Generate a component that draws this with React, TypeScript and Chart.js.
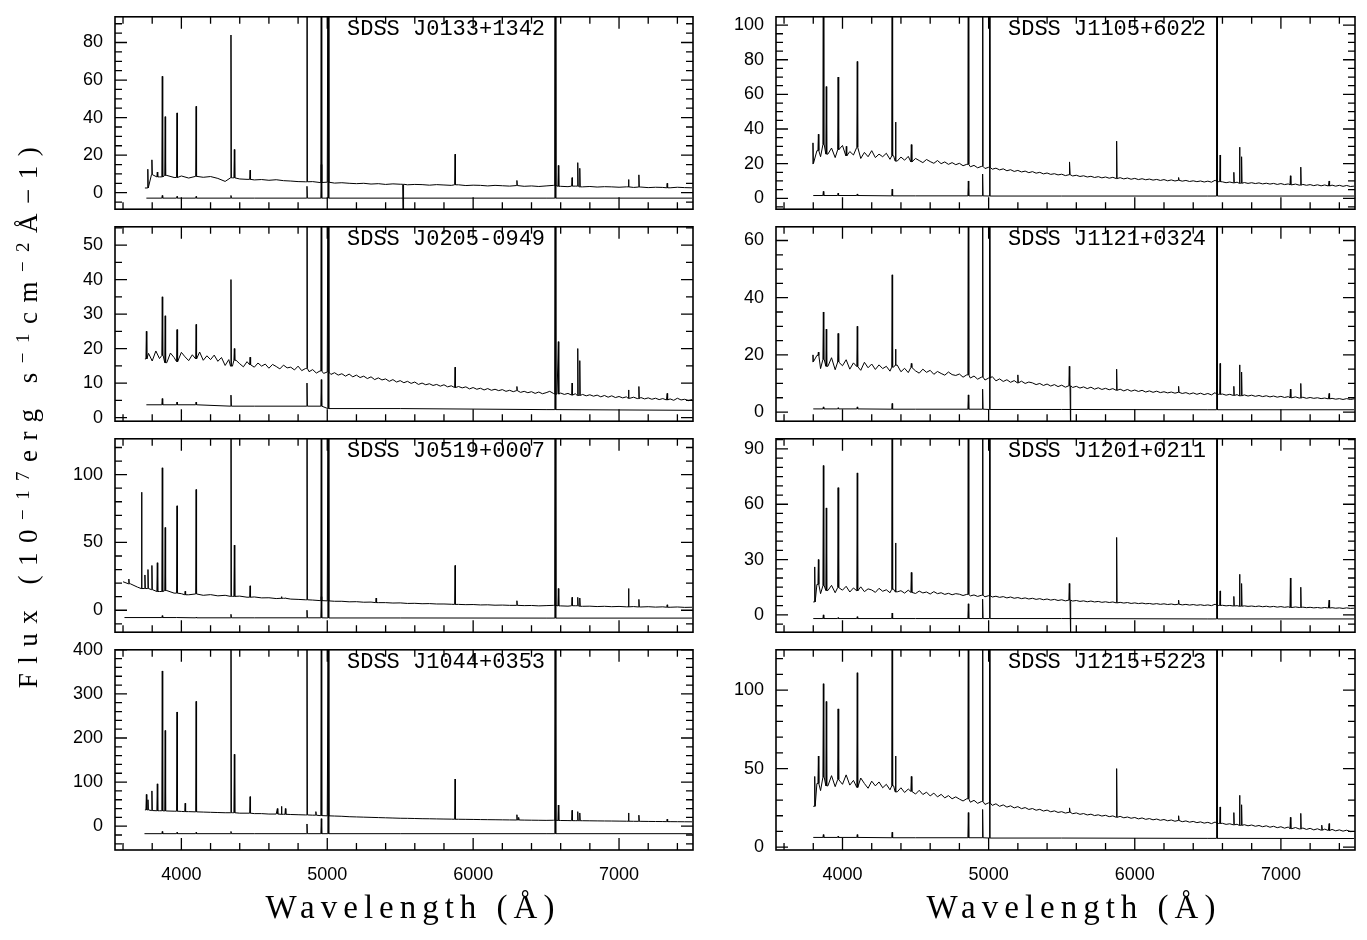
import React, { useEffect, useRef } from "react";
import { Chart, registerables } from "chart.js";
Chart.register(...registerables);

// ---------------- data ----------------
const X_MIN = 3545;
const X_MAX = 7507;
const X_TICKS = [4000, 5000, 6000, 7000];

const NAMES = [
  "SDSS J0133+1342",
  "SDSS J0205-0949",
  "SDSS J0519+0007",
  "SDSS J1044+0353",
  "SDSS J1105+6022",
  "SDSS J1121+0324",
  "SDSS J1201+0211",
  "SDSS J1215+5223",
];

const Y_MIN = [-8.8, -1.06, -16.2, -54, -6.3, -3.2, -9.4, -1.8];
const Y_MAX = [93.7, 55.3, 126.4, 400, 104.8, 64.8, 95.5, 125.6];
const Y_STEP = [20, 10, 50, 100, 20, 20, 30, 50];
const Y_MINOR = [5, 5, 10, 20, 5, 5, 5, 10];

// continuum samples: first wavelength and spacing (Angstrom) of each panel's list
const CONT_START = [3750, 3750, 3600, 3750, 3800, 3800, 3800, 3800];
const CONT_STEP = [50, 25, 50, 50, 25, 25, 25, 25];

const CONT_J0133 = [
  2.5, 9.6, 8.4, 9.2, 8.1, 8.9, 7.8, 8.7, 8.2, 8.6,
  7.6, 6.0, 7.9, 7.3, 7.1, 6.8, 7.0, 6.6, 6.9, 6.4,
  6.2, 5.9, 5.8, 5.9, 5.4, 5.6, 5.1, 5.3, 5.0, 4.8,
  5.0, 4.6, 4.8, 4.4, 4.7, 4.5, 4.2, 4.4, 4.3, 4.0,
  4.3, 4.1, 3.9, 4.2, 3.8, 4.0, 3.9, 3.6, 3.9, 3.7,
  3.5, 3.8, 3.4, 3.6, 3.3, 3.6, 3.9, 3.4, 3.2, 3.5,
  3.1, 3.3, 3.0, 3.2, 3.1, 2.9, 3.1, 2.8, 3.0, 2.7,
  2.9, 2.8, 2.6, 2.9, 2.7, 2.6,
];
const LINE_W_J0133 = [3770, 3798, 3835, 3869, 3889, 3970, 4101, 4340, 4363, 4471, 4861, 4959, 5007, 5520, 5876, 6300, 6563, 6584, 6678, 6717, 6731, 7065, 7136, 7330];
const LINE_F_J0133 = [12.5, 17.5, 11, 62, 40.5, 42.5, 46, 84, 23, 12, 200, 200, 200, -20, 20.5, 6.5, 200, 14.5, 8, 16, 13, 7, 9.5, 5];

const CONT_J0205 = [
  17.0, 18.6, 16.4, 19.3, 17.1, 18.0, 15.9, 18.7, 17.4, 16.2, 18.9, 17.6, 16.5, 18.2, 17.0, 19.0, 16.6, 17.9, 16.8, 18.1,
  16.3, 17.4, 15.1, 16.8, 14.9, 16.6, 15.6, 14.7, 16.2, 15.3, 14.6, 15.8, 14.9, 15.5, 14.3, 15.4, 14.8, 14.1, 15.2, 14.4,
  14.6, 13.8, 14.9, 13.6, 14.2, 13.3, 13.9, 12.9, 13.5, 12.8, 13.2, 12.5, 13.0, 12.3, 12.7, 12.0, 12.6, 11.8, 12.3, 11.6,
  12.0, 11.3, 11.8, 11.0, 11.5, 10.9, 11.2, 10.5, 11.0, 10.3, 10.7, 10.1, 10.5, 9.9, 10.3, 9.6, 10.0, 9.5, 9.8, 9.3,
  9.6, 9.1, 9.5, 8.9, 9.2, 8.7, 9.0, 8.6, 8.9, 8.3, 8.7, 8.2, 8.5, 8.0, 8.4, 7.9, 8.2, 7.8, 8.1, 7.6,
  7.9, 7.5, 7.8, 7.3, 7.6, 7.2, 7.5, 7.0, 7.4, 6.9, 7.2, 7.6, 7.0, 6.8, 7.1, 6.7, 7.0, 6.5, 6.9, 6.4,
  6.7, 6.3, 6.6, 6.2, 6.5, 6.0, 6.4, 5.9, 6.3, 5.8, 6.1, 5.7, 6.0, 5.6, 5.9, 5.5, 5.8, 5.4, 5.7, 5.3,
  5.6, 5.2, 5.5, 5.1, 5.4, 5.0, 5.6, 5.1, 5.3, 4.9, 5.2,
];
const LINE_W_J0205 = [3760, 3869, 3889, 3970, 4101, 4340, 4363, 4471, 4861, 4959, 5007, 5876, 6300, 6563, 6584, 6678, 6717, 6731, 7065, 7136, 7330];
const LINE_F_J0205 = [25, 35, 29.5, 25.5, 27, 40, 20, 17.5, 100, 100, 100, 14.6, 9, 100, 22, 10, 20, 16.5, 8, 9, 7];

const CONT_J0519 = [
  21.0, 19.5, 17.0, 16.0, 15.2, 13.8, 14.5, 12.6, 12.2, 11.4,
  12.0, 11.0, 11.5, 10.6, 11.0, 10.2, 10.4, 9.6, 9.8, 9.1,
  9.2, 8.6, 8.8, 8.2, 8.0, 7.7, 7.5, 7.1, 6.9, 6.6,
  6.6, 6.2, 6.3, 5.9, 6.0, 5.6, 5.6, 5.3, 5.4, 5.0,
  5.1, 4.8, 4.9, 4.6, 4.6, 4.4, 4.3, 4.1, 4.2, 3.9,
  4.0, 3.7, 3.8, 3.6, 3.6, 3.4, 3.5, 3.2, 3.4, 3.6,
  3.2, 3.0, 3.3, 2.9, 3.0, 2.7, 2.9, 2.6, 2.8, 2.5,
  2.7, 2.4, 2.6, 2.3, 2.5, 2.2, 2.4, 2.1, 2.2,
];
const LINE_W_J0519 = [3640, 3727, 3750, 3771, 3798, 3835, 3869, 3889, 3970, 4026, 4101, 4340, 4363, 4471, 4686, 4713, 4861, 4959, 5007, 5335, 5876, 6300, 6563, 6584, 6678, 6717, 6731, 7065, 7136, 7330];
const LINE_F_J0519 = [23, 87, 26, 30, 33, 35, 105, 61, 77, 14, 89, 200, 48, 18, 10, 9, 200, 200, 200, 9, 33, 7, 200, 16, 9.5, 9.5, 9, 16, 8, 4];

const CONT_J1044 = [
  37, 35.5, 35, 34.5, 34, 33.5, 33, 32.5, 32, 31.5,
  31, 30.5, 30.5, 29.5, 29.5, 28.5, 28.5, 27.5, 27.5, 27,
  26.5, 26, 25.5, 25, 24, 23.5, 23, 22.5, 21.5, 21,
  20.5, 20, 19.5, 19, 18.5, 18, 17.8, 17.4, 17, 16.8,
  16.5, 16.2, 16, 15.7, 15.5, 15.3, 15, 14.8, 14.6, 14.4,
  14.2, 14, 13.8, 13.6, 13.4, 13.2, 13.5, 12.9, 12.7, 12.5,
  12.4, 12.2, 12, 11.8, 11.7, 11.5, 11.3, 11.1, 11, 10.8,
  10.6, 10.5, 10.3, 10.2, 10, 9.9,
];
const LINE_W_J1044 = [3760, 3771, 3798, 3835, 3869, 3889, 3970, 4026, 4101, 4340, 4363, 4471, 4658, 4686, 4713, 4861, 4922, 4959, 5007, 5876, 6300, 6312, 6563, 6584, 6678, 6717, 6731, 7065, 7136, 7330];
const LINE_F_J1044 = [72, 60, 80, 96, 352, 217, 259, 52, 283, 500, 163, 67, 40, 45, 40, 500, 33, 500, 500, 107, 26, 20, 500, 48, 36, 33, 30, 30, 25, 16];

const CONT_J1105 = [
  20.0, 27.5, 24.0, 31.0, 25.5, 29.0, 23.5, 28.0, 30.5, 24.5, 27.0, 25.0, 29.5, 23.0, 26.5, 24.0, 27.5, 23.5, 25.5, 24.0,
  26.0, 22.5, 24.5, 21.5, 23.8, 22.0, 24.2, 21.0, 23.0, 21.8, 20.6, 22.4, 21.2, 20.2, 21.8, 20.0, 21.0, 19.6, 20.6, 19.4,
  20.2, 18.8, 19.6, 18.2, 19.0, 17.6, 18.4, 17.2, 17.9, 16.8, 17.4, 16.4, 17.0, 15.9, 16.5, 15.5, 16.1, 15.2, 15.7, 14.8,
  15.4, 14.5, 15.0, 14.1, 14.6, 13.8, 14.2, 13.5, 13.9, 13.1, 13.6, 12.9, 13.3, 12.6, 13.0, 12.3, 12.7, 12.0, 12.5, 11.8,
  12.3, 11.6, 12.1, 11.4, 11.9, 11.2, 11.7, 11.0, 11.5, 10.8, 11.3, 10.7, 11.1, 10.5, 10.9, 10.3, 10.8, 10.1, 10.6, 10.0,
  10.4, 9.9, 10.3, 9.7, 10.1, 9.6, 10.0, 9.4, 9.9, 9.3, 10.4, 9.6, 9.5, 9.0, 9.4, 8.9, 9.3, 8.7, 9.1, 8.6,
  9.0, 8.5, 8.9, 8.3, 8.7, 8.2, 8.6, 8.0, 8.5, 7.9, 8.3, 7.8, 8.2, 7.6, 8.0, 7.5, 7.9, 7.3, 7.8, 7.2,
  7.7, 7.1, 7.6, 7.0, 7.5, 6.9, 7.4, 6.8, 7.0,
];
const LINE_W_J1105 = [3798, 3835, 3869, 3889, 3970, 4026, 4101, 4340, 4363, 4471, 4861, 4959, 5007, 5555, 5876, 6300, 6563, 6584, 6678, 6717, 6731, 7065, 7136, 7330];
const LINE_F_J1105 = [32, 37, 200, 64.5, 70, 30, 79, 200, 44, 31, 200, 200, 200, 21, 33, 12, 200, 25, 15, 29.5, 24, 13, 18, 10];

const CONT_J1121 = [
  17.6, 19.8, 15.2, 18.4, 16.0, 19.0, 14.8, 17.5, 16.2, 18.3, 15.0, 17.2, 15.9, 14.6, 17.4, 15.5, 16.8, 14.9, 16.5, 15.2,
  16.0, 14.3, 15.7, 16.4, 14.1, 15.3, 13.8, 15.6, 14.4, 13.6, 15.0, 13.9, 14.6, 13.2, 14.2, 13.5, 12.9, 14.0, 13.1, 12.8,
  13.3, 12.2, 13.0, 11.9, 12.6, 11.5, 12.2, 11.2, 11.9, 12.4, 10.9, 11.6, 10.7, 11.3, 10.4, 11.0, 10.2, 10.8, 10.0, 10.5,
  10.2, 9.6, 10.0, 9.3, 9.8, 9.1, 9.6, 8.9, 9.4, 8.7, 9.2, 8.6, 9.0, 8.4, 8.8, 8.2, 8.7, 8.0, 8.5, 7.9,
  8.3, 7.8, 8.2, 7.6, 8.0, 7.4, 7.9, 7.3, 7.7, 7.2, 7.6, 7.0, 7.4, 6.9, 7.3, 6.8, 7.1, 6.7, 7.0, 6.6,
  6.9, 6.5, 6.8, 6.3, 6.7, 6.2, 6.6, 6.1, 6.5, 6.0, 6.8, 6.2, 6.3, 5.9, 6.2, 5.8, 6.1, 5.7, 6.0, 5.6,
  5.9, 5.5, 5.8, 5.4, 5.7, 5.3, 5.6, 5.2, 5.5, 5.1, 5.4, 5.0, 5.3, 4.9, 5.2, 4.8, 5.1, 4.8, 5.0, 4.7,
  4.9, 4.6, 4.8, 4.5, 4.7, 4.4, 4.7, 4.4, 4.6,
];
const LINE_W_J1121 = [3798, 3835, 3869, 3889, 3970, 4101, 4340, 4363, 4471, 4861, 4959, 5007, 5200, 5552, 5560, 5876, 6300, 6563, 6584, 6678, 6717, 6731, 7065, 7136, 7330];
const LINE_F_J1121 = [20, 21, 35, 29, 27.5, 30, 48, 22, 17, 100, 100, 100, 13, 16, -10, 15, 9, 100, 17, 9, 16.5, 14, 8, 10, 6.5];

const CONT_J1201 = [
  7.0, 16.5, 11.5, 15.8, 13.2, 16.0, 12.0, 14.8, 13.4, 15.5, 12.4, 14.6, 13.0, 15.2, 12.6, 14.1, 13.5, 12.2, 14.4, 12.8,
  13.6, 12.0, 13.9, 12.5, 13.1, 11.8, 13.4, 12.2, 11.6, 12.9, 11.9, 12.4, 11.3, 12.6, 11.5, 12.0, 11.1, 11.7, 10.9, 11.5,
  11.2, 10.5, 11.1, 10.3, 10.8, 10.0, 10.6, 9.8, 10.4, 9.7, 10.1, 9.5, 9.9, 9.2, 9.7, 9.0, 9.4, 8.8, 9.2, 8.6,
  9.0, 8.4, 8.8, 8.2, 8.6, 8.0, 8.4, 7.8, 8.2, 7.6, 8.0, 7.5, 7.8, 7.3, 7.6, 7.1, 7.5, 7.0, 7.3, 6.8,
  7.1, 6.7, 7.0, 6.5, 6.8, 6.4, 6.7, 6.2, 6.5, 6.1, 6.4, 6.0, 6.2, 5.8, 6.1, 5.7, 6.0, 5.6, 5.9, 5.5,
  5.8, 5.4, 5.7, 5.3, 5.6, 5.2, 5.5, 5.1, 5.4, 5.0, 5.8, 5.1, 5.2, 4.9, 5.1, 4.8, 5.0, 4.7, 4.9, 4.6,
  4.8, 4.5, 4.8, 4.4, 4.7, 4.3, 4.6, 4.2, 4.5, 4.1, 4.4, 4.0, 4.3, 4.0, 4.2, 3.9, 4.1, 3.8, 4.0, 3.7,
  4.0, 3.7, 3.9, 3.6, 3.8, 3.5, 3.8, 3.5, 3.6,
];
const LINE_W_J1201 = [3810, 3835, 3869, 3889, 3970, 4101, 4340, 4363, 4471, 4861, 4959, 5007, 5552, 5560, 5876, 6300, 6563, 6584, 6678, 6717, 6731, 7065, 7136, 7330];
const LINE_F_J1201 = [26, 30, 81, 58, 69, 77, 200, 39, 23, 200, 200, 200, 17, -15, 42, 8, 200, 13, 10, 22, 17, 20, 15, 8];

const CONT_J1215 = [
  26.0, 40.5, 36.0, 44.5, 39.0, 45.5, 38.5, 43.0, 40.0, 46.0, 39.5, 42.5, 38.0, 44.0, 40.5, 37.5, 42.0, 39.0, 41.5, 37.8,
  40.0, 36.5, 39.0, 35.2, 37.8, 34.8, 37.0, 35.5, 33.8, 36.2, 33.5, 35.0, 32.6, 34.4, 32.0, 33.6, 31.4, 32.8, 30.8, 32.0,
  30.6, 29.4, 30.8, 28.6, 29.8, 27.9, 29.0, 27.2, 28.2, 26.6, 27.6, 26.0, 26.9, 25.5, 26.3, 25.0, 25.8, 24.5, 25.2, 24.0,
  24.6, 23.5, 24.1, 23.0, 23.6, 22.5, 23.1, 22.1, 22.6, 21.7, 22.2, 21.3, 21.8, 20.9, 21.4, 20.5, 21.0, 20.1, 20.6, 19.8,
  20.3, 19.4, 19.9, 19.0, 19.6, 18.7, 19.2, 18.4, 18.9, 18.0, 18.6, 17.7, 18.2, 17.4, 17.9, 17.1, 17.6, 16.8, 17.3, 16.5,
  17.0, 16.2, 16.7, 15.9, 16.4, 15.6, 16.1, 15.3, 15.8, 15.0, 16.0, 15.1, 15.2, 14.5, 14.9, 14.2, 14.6, 13.9, 14.3, 13.6,
  14.1, 13.3, 13.8, 13.0, 13.6, 12.7, 13.3, 12.4, 13.0, 12.1, 12.8, 11.8, 12.5, 11.6, 12.2, 11.3, 12.0, 11.0, 11.7, 10.8,
  11.5, 10.6, 11.3, 10.4, 11.0, 10.2, 10.8, 9.9, 10.0,
];
const LINE_W_J1215 = [3810, 3835, 3869, 3889, 3970, 4101, 4340, 4363, 4471, 4861, 4959, 5007, 5555, 5876, 6300, 6563, 6584, 6678, 6717, 6731, 7065, 7136, 7281, 7330];
const LINE_F_J1215 = [45, 58, 104, 92.7, 88, 111, 200, 58, 45, 200, 200, 200, 25, 50, 20, 200, 25.6, 22, 33, 27, 19, 21.5, 14, 15];

// lower (error) spectra: few nodes + spikes at the strong lines
const LOW_LINE_W = [3869, 3970, 4101, 4340, 4861, 4959, 5007, 6563];
const LOW_NODE_W = [
  [3760, 4500, 5500, 6500, 7500],
  [3760, 4500, 5500, 6500, 7500],
  [3610, 4500, 5500, 6500, 7500],
  [3747, 4500, 5500, 6500, 7500],
  [3800, 4500, 5500, 6500, 7500],
  [3800, 4500, 5500, 6500, 7500],
  [3800, 4500, 5500, 6500, 7500],
  [3800, 4500, 5500, 6500, 7500],
];
const LOW_NODE_F = [
  [-2.9, -2.9, -2.9, -2.9, -2.9],
  [3.7, 3.3, 2.6, 2.3, 2.1],
  [-5.4, -5.6, -5.7, -5.8, -5.8],
  [-17, -17, -17, -17, -17],
  [1.6, 1.4, 1.3, 1.3, 1.3],
  [1.1, 1.0, 0.9, 0.8, 0.8],
  [-2, -2, -2, -2.2, -2.2],
  [6.2, 6.0, 5.8, 5.6, 5.5],
];
const LOW_LINE_F = [
  [-1.5, -2, -2, -1.5, 3.4, 15, 200, 200],
  [5.5, 4.5, 4.5, 6.5, 10, 11, 60, 60],
  [-4, -5, -5, -3, 0, 10, 200, 200],
  [-12, -14, -14, -12, 5, 17, 500, 500],
  [4, 3, 2.5, 5.3, 10, 14, 200, 200],
  [1.8, 1.5, 1.8, 3, 6, 8, 100, 100],
  [0, -1.5, -1, 1, 6, 8.5, 200, 200],
  [8, 7, 8, 9.5, 22, 24, 200, 200],
];

const CONTS = [CONT_J0133, CONT_J0205, CONT_J0519, CONT_J1044, CONT_J1105, CONT_J1121, CONT_J1201, CONT_J1215];
const LINE_WS = [LINE_W_J0133, LINE_W_J0205, LINE_W_J0519, LINE_W_J1044, LINE_W_J1105, LINE_W_J1121, LINE_W_J1201, LINE_W_J1215];
const LINE_FS = [LINE_F_J0133, LINE_F_J0205, LINE_F_J0519, LINE_F_J1044, LINE_F_J1105, LINE_F_J1121, LINE_F_J1201, LINE_F_J1215];

// ---------------- layout ----------------
const COL_X = [
  [115, 693],
  [776, 1355],
];
const ROW_Y = [8, 218, 430, 641, 850];
const Y_AXIS_W = 85;
const PAD = 14;
const X_AXIS_H = 45;

function geom(i: number) {
  const col = i < 4 ? 0 : 1;
  const row = i % 4;
  const [x0, x1] = COL_X[col];
  const y0 = ROW_Y[row];
  const y1 = ROW_Y[row + 1];
  const isBottom = row === 3;
  return {
    isBottom,
    plotLeft: x0,
    plotTop: y0,
    left: x0 - Y_AXIS_W,
    top: y0 - PAD,
    w: x1 - x0 + Y_AXIS_W + PAD,
    h: y1 - y0 + PAD + (isBottom ? X_AXIS_H : PAD),
  };
}

function buildSeries(ws: number[], fs: number[], lw: number[], lf: number[]) {
  const pts = ws.map((w, k) => ({ x: w, y: fs[k] }));
  const nearest = (w: number) => {
    let best = pts[0];
    for (const p of pts) if (Math.abs(p.x - w) < Math.abs(best.x - w)) best = p;
    return best.y;
  };
  const extra: { x: number; y: number }[] = [];
  lw.forEach((w, k) => {
    const b = nearest(w);
    extra.push({ x: w - 3, y: b }, { x: w, y: lf[k] }, { x: w + 3, y: b });
  });
  return pts
    .filter((p) => !lw.some((w) => Math.abs(w - p.x) <= 3))
    .concat(extra)
    .sort((a, b) => a.x - b.x);
}

const framePlugin = {
  id: "frame",
  afterDraw(chart: any, _args: any, opts: any) {
    const { ctx, chartArea, scales } = chart;
    const { left, right, top, bottom } = chartArea;
    const xs = scales.x;
    const ys = scales.y;
    ctx.save();
    ctx.strokeStyle = "#000";
    ctx.lineWidth = 1.6;
    ctx.strokeRect(left, top, right - left, bottom - top);
    ctx.lineWidth = 1.3;
    ctx.beginPath();
    for (let k = 0; k <= 20; k++) {
      const w = 3600 + k * 200;
      const px = xs.getPixelForValue(w);
      if (px <= left || px >= right) continue;
      const L = w % 1000 === 0 ? 12 : 7;
      ctx.moveTo(px, bottom);
      ctx.lineTo(px, bottom - L);
      ctx.moveTo(px, top);
      ctx.lineTo(px, top + L);
    }
    const minor = opts.minor;
    const major = opts.major;
    const kStart = Math.ceil(ys.min / minor);
    const kEnd = Math.floor(ys.max / minor);
    for (let k = kStart; k <= kEnd; k++) {
      const v = k * minor;
      const py = ys.getPixelForValue(v);
      const r = v / major;
      const isMajor = Math.abs(r - Math.round(r)) < 1e-6;
      const L = isMajor ? 12 : 7;
      ctx.moveTo(left, py);
      ctx.lineTo(left + L, py);
      ctx.moveTo(right, py);
      ctx.lineTo(right - L, py);
    }
    ctx.stroke();
    ctx.restore();
  },
};

function makeConfig(i: number): any {
  const g = geom(i);
  const start = CONT_START[i];
  const contW = CONTS[i].map((_, k) => start + k * CONT_STEP[i]);
  const upper = buildSeries(contW, CONTS[i], LINE_WS[i], LINE_FS[i]);
  const lower = buildSeries(LOW_NODE_W[i], LOW_NODE_F[i], LOW_LINE_W, LOW_LINE_F[i]);
  const tickFont = { family: "'Liberation Sans', Arial, sans-serif", size: 18 };
  const step = Y_STEP[i];
  const yTicks: number[] = [];
  for (let k = Math.ceil(Y_MIN[i] / step); k * step <= Y_MAX[i]; k++) yTicks.push(k * step);
  return {
    type: "line",
    data: {
      datasets: [
        { data: upper, borderColor: "#000", borderWidth: 1, pointRadius: 0, tension: 0, fill: false },
        { data: lower, borderColor: "#000", borderWidth: 1, pointRadius: 0, tension: 0, fill: false },
      ],
    },
    options: {
      animation: false,
      responsive: false,
      devicePixelRatio: 1,
      layout: { padding: { left: 0, right: PAD, top: PAD, bottom: g.isBottom ? 0 : PAD } },
      plugins: {
        legend: { display: false },
        tooltip: { enabled: false },
        frame: { major: Y_STEP[i], minor: Y_MINOR[i] },
      },
      scales: {
        x: {
          type: "linear",
          min: X_MIN,
          max: X_MAX,
          grid: { display: false, drawTicks: false },
          border: { display: false },
          afterBuildTicks: (s: any) => {
            s.ticks = X_TICKS.map((v) => ({ value: v }));
          },
          afterFit: (s: any) => {
            s.height = g.isBottom ? X_AXIS_H : 0;
          },
          ticks: {
            display: g.isBottom,
            autoSkip: false,
            maxRotation: 0,
            padding: 14,
            color: "#000",
            font: tickFont,
            callback: (v: any) => String(v),
          },
        },
        y: {
          type: "linear",
          min: Y_MIN[i],
          max: Y_MAX[i],
          grid: { display: false, drawTicks: false },
          border: { display: false },
          afterBuildTicks: (s: any) => {
            s.ticks = yTicks.map((v) => ({ value: v }));
          },
          afterFit: (s: any) => {
            s.width = Y_AXIS_W;
          },
          ticks: {
            autoSkip: false,
            padding: 12,
            color: "#000",
            font: tickFont,
            callback: (v: any) => String(v),
          },
        },
      },
    },
    plugins: [framePlugin],
  };
}

const sup: React.CSSProperties = { fontSize: "0.7em", position: "relative", top: "-0.45em" };

export default function App() {
  const refs = useRef<(HTMLCanvasElement | null)[]>([]);
  useEffect(() => {
    const charts = NAMES.map((_, i) => new Chart(refs.current[i] as HTMLCanvasElement, makeConfig(i)));
    return () => charts.forEach((c) => c.destroy());
  }, []);

  const titleFont = "'Liberation Serif', 'Times New Roman', serif";
  return (
    <div style={{ position: "absolute", left: 0, top: 0, width: 1367, height: 940, background: "#fff", overflow: "hidden" }}>
      {NAMES.map((_, i) => {
        const g = geom(i);
        return (
          <canvas
            key={"c" + i}
            ref={(el) => {
              refs.current[i] = el;
            }}
            width={g.w}
            height={g.h}
            style={{ position: "absolute", left: g.left, top: g.top, width: g.w, height: g.h }}
          />
        );
      })}
      {NAMES.map((n, i) => {
        const g = geom(i);
        return (
          <div
            key={"l" + i}
            style={{
              position: "absolute",
              left: g.plotLeft + 232,
              top: g.plotTop + 11,
              fontFamily: "'Liberation Mono', 'Courier New', monospace",
              fontSize: 22,
              lineHeight: "22px",
              whiteSpace: "nowrap",
              color: "#000",
            }}
          >
            {n}
          </div>
        );
      })}
      {[413, 1074].map((cx, k) => (
        <div
          key={"xt" + k}
          style={{
            position: "absolute",
            left: cx - 250,
            top: 887,
            width: 500,
            height: 40,
            lineHeight: "40px",
            textAlign: "center",
            fontFamily: titleFont,
            fontSize: 33,
            letterSpacing: 6,
            whiteSpace: "nowrap",
            color: "#000",
          }}
        >
          Wavelength (Å)
        </div>
      ))}
      <div
        style={{
          position: "absolute",
          left: 28 - 350,
          top: 413 - 20,
          width: 700,
          height: 40,
          lineHeight: "40px",
          textAlign: "center",
          fontFamily: titleFont,
          fontSize: 27,
          letterSpacing: 9.5,
          whiteSpace: "nowrap",
          color: "#000",
          transform: "rotate(-90deg)",
        }}
      >
        Flux (10<span style={sup}>−17</span>erg s<span style={sup}>−1</span>cm<span style={sup}>−2</span>Å−1)
      </div>
    </div>
  );
}
